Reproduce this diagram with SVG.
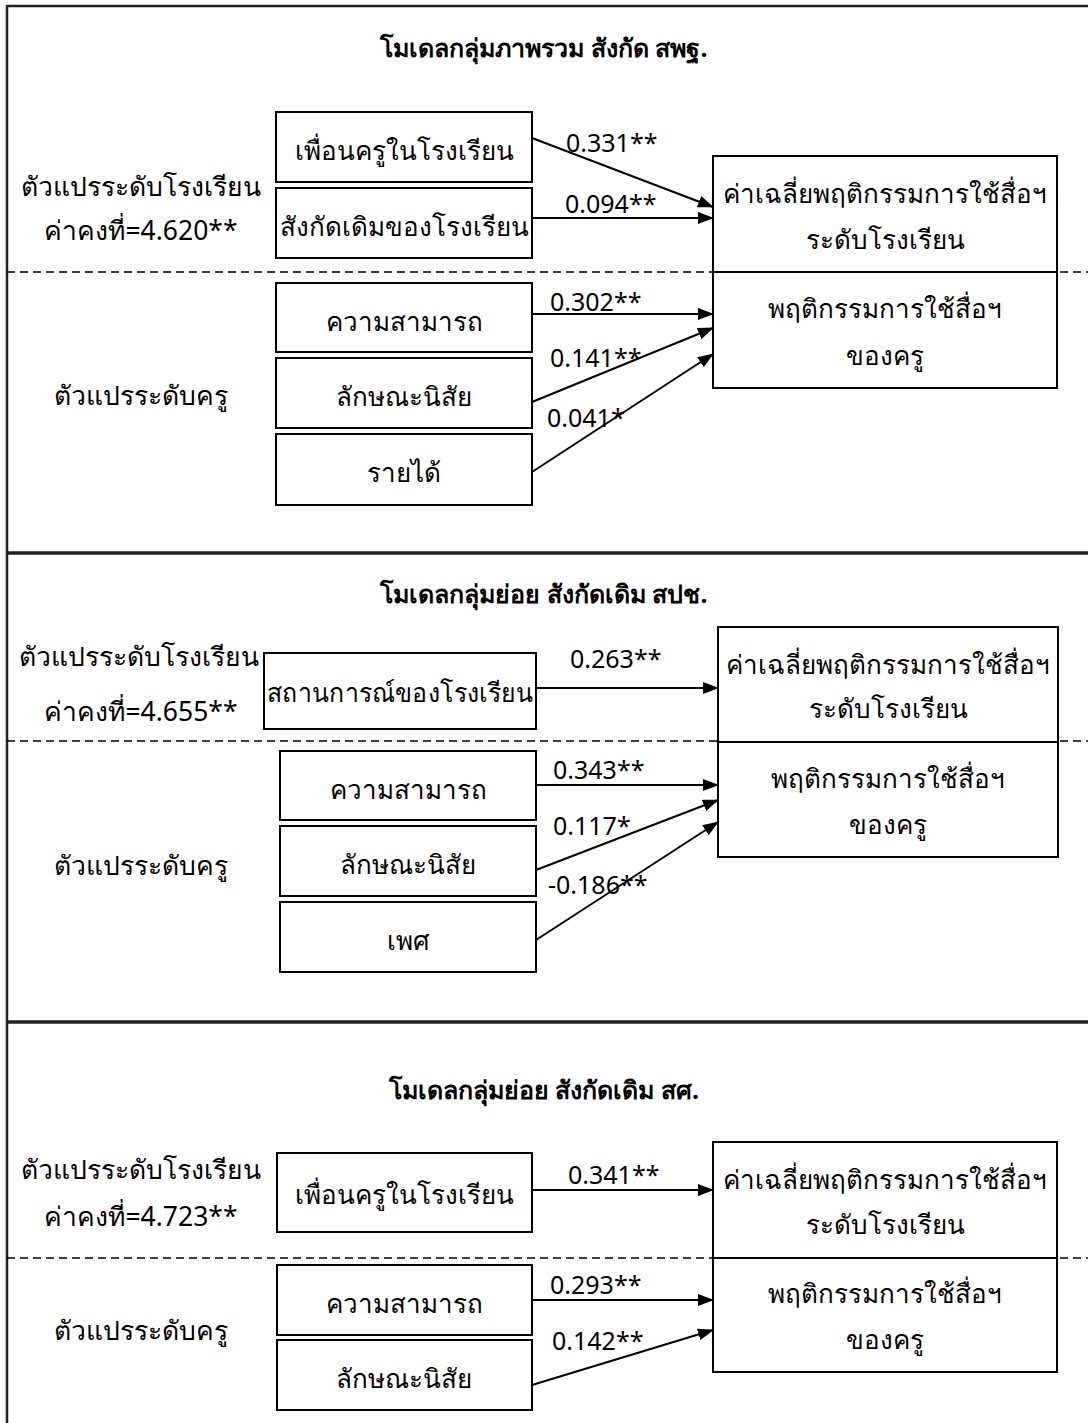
<svg xmlns="http://www.w3.org/2000/svg" width="1088" height="1423" viewBox="0 0 1088 1423">
<defs>
<marker id="ah" markerWidth="16" markerHeight="12" refX="15" refY="6" orient="auto" markerUnits="userSpaceOnUse" viewBox="0 0 16 12">
<path d="M0,0 L16,6 L0,12 z" fill="#000"/>
</marker>
<style>
text{font-family:"Noto Sans","DejaVu Sans",sans-serif;fill:#000;}
.t{font-size:26px;text-anchor:middle;}
.l{font-size:26.5px;text-anchor:middle;}
.h{font-size:25px;font-weight:bold;text-anchor:middle;}
.c{font-size:25px;}
.b{fill:#fff;stroke:#000;stroke-width:2;}
.e{stroke:#000;stroke-width:2;fill:none;marker-end:url(#ah);}
.d{stroke:#000;stroke-width:1.5;stroke-dasharray:8,5;}
.f{stroke:#222;stroke-width:2.5;}
.s{stroke:#222;stroke-width:3.5;}
</style>
</defs>
<g id="frame">
<line class="f" x1="7" y1="6" x2="1088" y2="6"/>
<line class="f" x1="7" y1="5" x2="7" y2="1423"/>
<line class="s" x1="7" y1="553" x2="1088" y2="553"/>
<line class="s" x1="7" y1="1022" x2="1088" y2="1022"/>
<line class="d" x1="7" y1="272" x2="1088" y2="272"/>
<line class="d" x1="7" y1="741" x2="1088" y2="741"/>
<line class="d" x1="7" y1="1258" x2="1088" y2="1258"/>
</g>
<g id="section1">
<text class="h" x="544" y="57">โมเดลกลุ่มภาพรวม สังกัด สพฐ.</text>
<text class="l" x="141" y="196">ตัวแปรระดับโรงเรียน</text>
<text class="l" x="141" y="240">ค่าคงที่=4.620**</text>
<text class="l" x="141" y="405">ตัวแปรระดับครู</text>
<g id="n1a"><rect class="b" x="276" y="112" width="256" height="70"/><text class="t" x="404" y="160">เพื่อนครูในโรงเรียน</text></g>
<g id="n1b"><rect class="b" x="276" y="188" width="256" height="70"/><text class="t" x="404" y="236">สังกัดเดิมของโรงเรียน</text></g>
<g id="n1c"><rect class="b" x="276" y="283" width="256" height="69"/><text class="t" x="404" y="331">ความสามารถ</text></g>
<g id="n1d"><rect class="b" x="276" y="358" width="256" height="70"/><text class="t" x="404" y="406">ลักษณะนิสัย</text></g>
<g id="n1e"><rect class="b" x="276" y="434" width="256" height="71"/><text class="t" x="404" y="482">รายได้</text></g>
<g id="n1r"><rect class="b" x="713" y="156" width="344" height="232"/><line x1="713" y1="272" x2="1057" y2="272" stroke="#000" stroke-width="2"/>
<text class="t" x="885" y="203">ค่าเฉลี่ยพฤติกรรมการใช้สื่อฯ</text>
<text class="t" x="885" y="249">ระดับโรงเรียน</text>
<text class="t" x="885" y="318">พฤติกรรมการใช้สื่อฯ</text>
<text class="t" x="885" y="365">ของครู</text></g>
</g>
<g id="section2">
<text class="h" x="544" y="603">โมเดลกลุ่มย่อย สังกัดเดิม สปช.</text>
<text class="l" x="139" y="666">ตัวแปรระดับโรงเรียน</text>
<text class="l" x="141" y="721">ค่าคงที่=4.655**</text>
<text class="l" x="141" y="875">ตัวแปรระดับครู</text>
<g id="n2a"><rect class="b" x="264" y="653" width="272" height="76"/><text class="t" x="400" y="702" textLength="266" lengthAdjust="spacingAndGlyphs">สถานการณ์ของโรงเรียน</text></g>
<g id="n2b"><rect class="b" x="280" y="751" width="256" height="69"/><text class="t" x="408" y="799">ความสามารถ</text></g>
<g id="n2c"><rect class="b" x="280" y="826" width="256" height="70"/><text class="t" x="408" y="874">ลักษณะนิสัย</text></g>
<g id="n2d"><rect class="b" x="280" y="902" width="256" height="70"/><text class="t" x="408" y="950">เพศ</text></g>
<g id="n2r"><rect class="b" x="718" y="627" width="340" height="230"/><line x1="718" y1="742" x2="1058" y2="742" stroke="#000" stroke-width="2"/>
<text class="t" x="888" y="674">ค่าเฉลี่ยพฤติกรรมการใช้สื่อฯ</text>
<text class="t" x="888" y="718">ระดับโรงเรียน</text>
<text class="t" x="888" y="788">พฤติกรรมการใช้สื่อฯ</text>
<text class="t" x="888" y="834">ของครู</text></g>
</g>
<g id="section3">
<text class="h" x="544" y="1099">โมเดลกลุ่มย่อย สังกัดเดิม สศ.</text>
<text class="l" x="141" y="1179">ตัวแปรระดับโรงเรียน</text>
<text class="l" x="141" y="1226">ค่าคงที่=4.723**</text>
<text class="l" x="141" y="1340">ตัวแปรระดับครู</text>
<g id="n3a"><rect class="b" x="277" y="1153" width="255" height="79"/><text class="t" x="404" y="1204">เพื่อนครูในโรงเรียน</text></g>
<g id="n3b"><rect class="b" x="277" y="1265" width="255" height="70"/><text class="t" x="404" y="1313">ความสามารถ</text></g>
<g id="n3c"><rect class="b" x="277" y="1340" width="255" height="70"/><text class="t" x="404" y="1388">ลักษณะนิสัย</text></g>
<g id="n3r"><rect class="b" x="713" y="1142" width="344" height="230"/><line x1="713" y1="1258" x2="1057" y2="1258" stroke="#000" stroke-width="2"/>
<text class="t" x="885" y="1189">ค่าเฉลี่ยพฤติกรรมการใช้สื่อฯ</text>
<text class="t" x="885" y="1234">ระดับโรงเรียน</text>
<text class="t" x="885" y="1303">พฤติกรรมการใช้สื่อฯ</text>
<text class="t" x="885" y="1349">ของครู</text></g>
</g>
<g id="connectors">
<line class="e" x1="532" y1="138" x2="713" y2="207"/>
<line class="e" x1="532" y1="218" x2="713" y2="218"/>
<line class="e" x1="532" y1="314" x2="713" y2="314"/>
<line class="e" x1="532" y1="402" x2="713" y2="328"/>
<line class="e" x1="532" y1="472" x2="713" y2="354"/>
<line class="e" x1="536" y1="688" x2="718" y2="688"/>
<line class="e" x1="536" y1="785" x2="718" y2="785"/>
<line class="e" x1="536" y1="870" x2="718" y2="800"/>
<line class="e" x1="536" y1="940" x2="718" y2="822"/>
<line class="e" x1="532" y1="1190" x2="713" y2="1190"/>
<line class="e" x1="532" y1="1300" x2="713" y2="1300"/>
<line class="e" x1="532" y1="1385" x2="713" y2="1330"/>
</g>
<g id="labels">
<text class="c" x="566" y="152">0.331**</text>
<text class="c" x="565" y="213">0.094**</text>
<text class="c" x="550" y="311">0.302**</text>
<text class="c" x="550" y="367">0.141**</text>
<text class="c" x="547" y="427">0.041*</text>
<text class="c" x="570" y="668">0.263**</text>
<text class="c" x="553" y="779">0.343**</text>
<text class="c" x="553" y="835">0.117*</text>
<text class="c" x="548" y="894">-0.186**</text>
<text class="c" x="568" y="1184">0.341**</text>
<text class="c" x="550" y="1294">0.293**</text>
<text class="c" x="552" y="1350">0.142**</text>
</g>
</svg>
